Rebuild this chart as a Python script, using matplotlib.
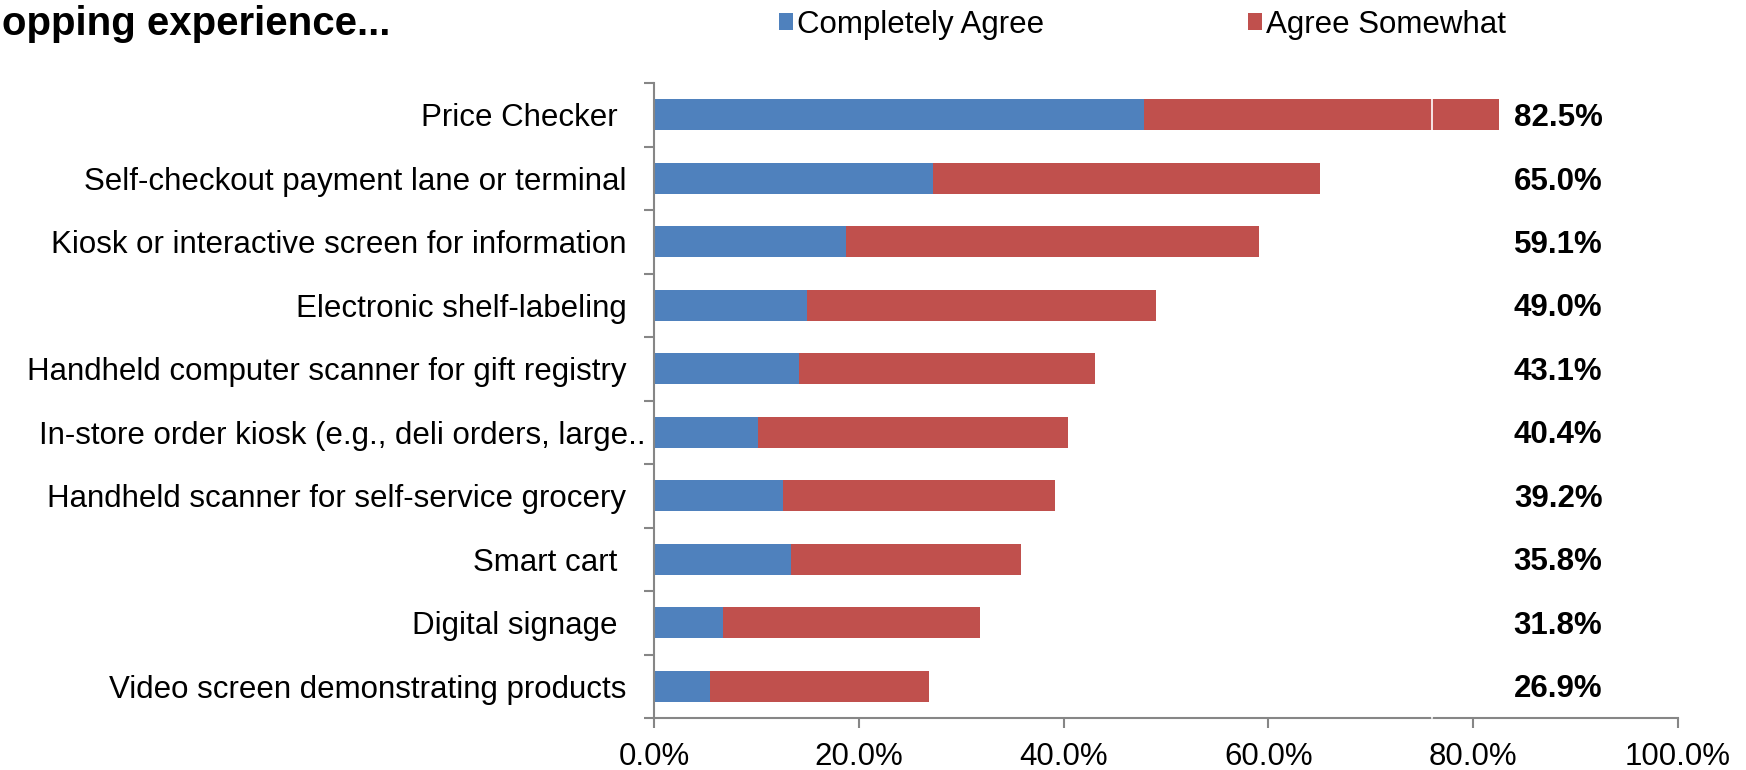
import matplotlib
matplotlib.use("Agg")
import matplotlib.pyplot as plt
import matplotlib.transforms as mtransforms
from matplotlib.ticker import FuncFormatter, FixedLocator

plt.rcParams['font.family'] = ['Liberation Sans', 'DejaVu Sans']

categories = [
    "Price Checker ",
    "Self-checkout payment lane or terminal",
    "Kiosk or interactive screen for information",
    "Electronic shelf-labeling",
    "Handheld computer scanner for gift registry",
    "In-store order kiosk (e.g., deli orders, large..",
    "Handheld scanner for self-service grocery",
    "Smart cart ",
    "Digital signage ",
    "Video screen demonstrating products",
]
completely_agree = [47.9, 27.2, 18.7, 14.9, 14.2, 10.2, 12.6, 13.4, 6.7, 5.5]
total_agree = [82.5, 65.0, 59.1, 49.0, 43.1, 40.4, 39.2, 35.8, 31.8, 26.9]
agree_somewhat = [t - c for t, c in zip(total_agree, completely_agree)]
x_ticks = [0, 20, 40, 60, 80, 100]

BLUE = "#4F81BD"
RED = "#C0504D"
GRAY = "#868686"
FS = 22.5

fig = plt.figure(figsize=(17.46, 7.70), dpi=100)
ax = fig.add_axes([0.3746, 0.0675, 0.961 - 0.3746, 0.892 - 0.0675])

y = list(range(len(categories)))
b1 = ax.barh(y, completely_agree, height=0.49, color=BLUE, label="Completely Agree", zorder=2)
b2 = ax.barh(y, agree_somewhat, left=completely_agree, height=0.49, color=RED,
             label="Agree Somewhat", zorder=2)

# total percentage at the right of each row, vertically centred on the caps
for yi, tot in zip(y, total_agree):
    ax.annotate(f"{tot:.1f}%", xy=(88.3, yi), xytext=(0, -8), textcoords="offset points",
                ha="center", va="baseline", fontsize=FS, fontweight="bold", color="black")

ax.set_xlim(0, 100)
ax.set_ylim(len(categories) - 0.5, -0.5)

ax.set_yticks(y)
ax.set_yticklabels(categories, fontsize=FS)
ax.yaxis.set_minor_locator(FixedLocator([i - 0.5 for i in range(len(categories) + 1)]))
ax.tick_params(axis="y", which="major", length=0, pad=20)
ax.tick_params(axis="y", which="minor", length=7, width=1.5, color=GRAY, direction="out")

# the truncated label runs right up to the axis
long_label = ax.get_yticklabels()[5]
long_label.set_transform(long_label.get_transform() +
                         mtransforms.ScaledTranslation(14 / 72, 0, fig.dpi_scale_trans))

ax.set_xticks(x_ticks)
ax.xaxis.set_major_formatter(FuncFormatter(lambda v, p: f"{v:.1f}%"))
ax.tick_params(axis="x", which="major", length=7, width=1.5, color=GRAY,
               direction="out", labelsize=FS, pad=10)

for side in ("top", "right"):
    ax.spines[side].set_visible(False)
for side in ("left", "bottom"):
    ax.spines[side].set_color(GRAY)
    ax.spines[side].set_linewidth(1.5)

# thin white seam running through the plot
ax.axvline(76.0, color="white", lw=1.2, zorder=5, clip_on=False)

fig.legend(handles=[b1, b2], loc="center left", bbox_to_anchor=(0.446, 1 - 25 / 770),
           ncol=2, frameon=False, fontsize=FS, handlelength=0.45, handleheight=0.45,
           handletextpad=0.12, columnspacing=6.55, borderpad=0, borderaxespad=0)

fig.text(390 / 1746, 1 - 35 / 770, "shopping experience...", ha="right", va="baseline",
         fontsize=29, fontweight="bold")

fig.savefig("out.png", dpi=100)
